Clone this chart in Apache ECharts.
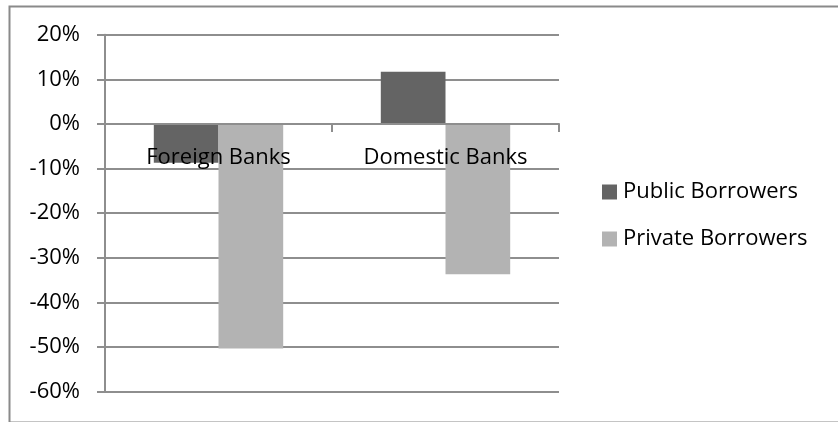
<!DOCTYPE html>
<html>
<head>
<meta charset="utf-8">
<script src="https://cdn.jsdelivr.net/npm/echarts@6/dist/echarts.min.js"></script>
<style>html,body{margin:0;padding:0;background:#fff}#c{width:838px;height:422px}</style>
</head>
<body>
<div id="c"></div>
<script>
const categories = ['Foreign Banks', 'Domestic Banks'];
const publicBorrowers = [-8.7, 11.7];
const privateBorrowers = [-50.3, -33.7];
const seriesNames = ['Public Borrowers', 'Private Borrowers'];
const yMin = -60, yMax = 20, yStep = 10;

const FONT = '"Open Sans", sans-serif';
const gridTop = 34.7, gridBottom = 30.3, H = 422;
const plotH = H - gridTop - gridBottom;
const zeroOffset = -plotH * (0 - yMin) / (yMax - yMin);

const chart = echarts.init(document.getElementById('c'), null, {renderer: 'canvas'});
chart.setOption({
  animation: false,
  backgroundColor: '#fff',
  textStyle: {fontFamily: FONT},
  graphic: [{
    type: 'rect', left: 7, top: 4, z: 100, silent: true,
    shape: {width: 840, height: 416},
    style: {fill: 'none', stroke: '#8a8a8a', lineWidth: 2}
  }],
  grid: {left: 105, right: 279, top: gridTop, bottom: gridBottom, containLabel: false, outerBoundsMode: 'none'},
  legend: {
    orient: 'vertical', left: 597, top: 176, itemWidth: 15, itemHeight: 15,
    itemGap: 25, icon: 'rect',
    textStyle: {fontFamily: FONT, fontSize: 22, color: '#000', padding: [0, 0, 0, 1]},
    data: seriesNames
  },
  xAxis: {
    type: 'category', data: categories, z: 10, position: 'bottom', offset: zeroOffset,
    axisLine: {onZero: false, lineStyle: {color: '#8e8e8e', width: 2}},
    axisTick: {show: true, length: 8, inside: false, lineStyle: {color: '#8e8e8e', width: 2}},
    axisLabel: {fontFamily: FONT, fontSize: 22, color: '#000', margin: 22, lineHeight: 24}
  },
  yAxis: {
    type: 'value', min: yMin, max: yMax, interval: yStep,
    axisLine: {show: true, lineStyle: {color: '#8e8e8e', width: 2}},
    axisTick: {show: true, length: 8, lineStyle: {color: '#8e8e8e', width: 2}},
    splitLine: {show: true, lineStyle: {color: '#8e8e8e', width: 2}},
    axisLabel: {fontFamily: FONT, fontSize: 22, color: '#000', margin: 25, formatter: '{value}%'}
  },
  series: [
    {name: seriesNames[0], type: 'bar', data: publicBorrowers, barGap: '0%', barCategoryGap: '43%',
     itemStyle: {color: '#646464'}},
    {name: seriesNames[1], type: 'bar', data: privateBorrowers, barGap: '0%', barCategoryGap: '43%',
     itemStyle: {color: '#b3b3b3'}}
  ]
});
</script>
</body>
</html>
